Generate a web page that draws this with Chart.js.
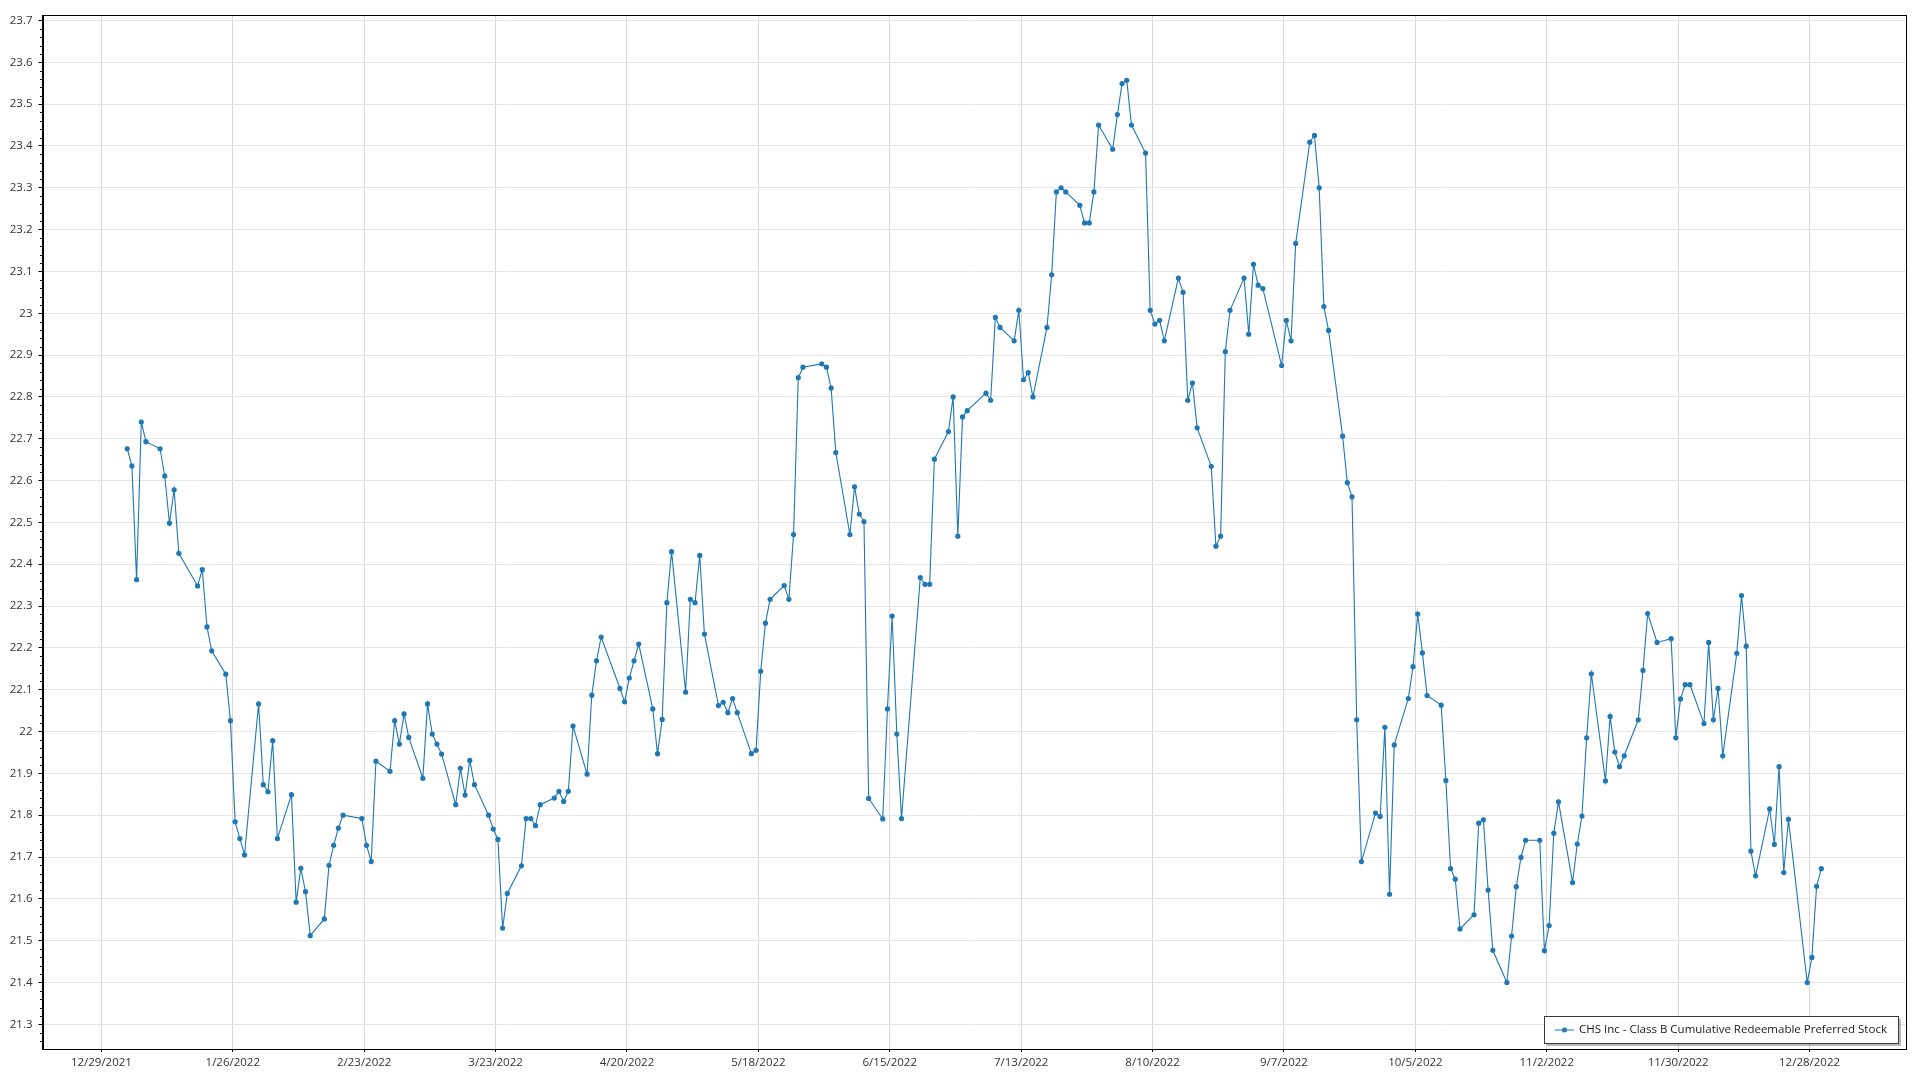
<!DOCTYPE html>
<html>
<head>
<meta charset="utf-8">
<script src="https://cdn.jsdelivr.net/npm/chart.js@4.4.1/dist/chart.umd.min.js"></script>
<style>
  html, body { margin: 0; padding: 0; background: #fff; }
  #wrap { width: 1920px; height: 1080px; }
</style>
</head>
<body>
<div id="wrap"><canvas id="chart1" width="1920" height="1080"></canvas></div>
<script>
const seriesName = 'CHS Inc - Class B Cumulative Redeemable Preferred Stock';

// trading days of 2022 (M/D)
const dates = [
  '1/3','1/4','1/5','1/6','1/7','1/10','1/11','1/12','1/13','1/14','1/18','1/19','1/20','1/21','1/24','1/25','1/26','1/27','1/28','1/31',
  '2/1','2/2','2/3','2/4','2/7','2/8','2/9','2/10','2/11','2/14','2/15','2/16','2/17','2/18','2/22','2/23','2/24','2/25','2/28',
  '3/1','3/2','3/3','3/4','3/7','3/8','3/9','3/10','3/11','3/14','3/15','3/16','3/17','3/18','3/21','3/22','3/23','3/24','3/25','3/28','3/29','3/30','3/31',
  '4/1','4/4','4/5','4/6','4/7','4/8','4/11','4/12','4/13','4/14','4/18','4/19','4/20','4/21','4/22','4/25','4/26','4/27','4/28','4/29',
  '5/2','5/3','5/4','5/5','5/6','5/9','5/10','5/11','5/12','5/13','5/16','5/17','5/18','5/19','5/20','5/23','5/24','5/25','5/26','5/27','5/31',
  '6/1','6/2','6/3','6/6','6/7','6/8','6/9','6/10','6/13','6/14','6/15','6/16','6/17','6/21','6/22','6/23','6/24','6/27','6/28','6/29','6/30',
  '7/1','7/5','7/6','7/7','7/8','7/11','7/12','7/13','7/14','7/15','7/18','7/19','7/20','7/21','7/22','7/25','7/26','7/27','7/28','7/29',
  '8/1','8/2','8/3','8/4','8/5','8/8','8/9','8/10','8/11','8/12','8/15','8/16','8/17','8/18','8/19','8/22','8/23','8/24','8/25','8/26','8/29','8/30','8/31',
  '9/1','9/2','9/6','9/7','9/8','9/9','9/12','9/13','9/14','9/15','9/16','9/19','9/20','9/21','9/22','9/23','9/26','9/27','9/28','9/29','9/30',
  '10/3','10/4','10/5','10/6','10/7','10/10','10/11','10/12','10/13','10/14','10/17','10/18','10/19','10/20','10/21','10/24','10/25','10/26','10/27','10/28','10/31',
  '11/1','11/2','11/3','11/4','11/7','11/8','11/9','11/10','11/11','11/14','11/15','11/16','11/17','11/18','11/21','11/22','11/23','11/25','11/28','11/29','11/30',
  '12/1','12/2','12/5','12/6','12/7','12/8','12/9','12/12','12/13','12/14','12/15','12/16','12/19','12/20','12/21','12/22','12/23','12/27','12/28','12/29','12/30'
];

const prices = [
  22.676,22.635,22.363,22.74,22.693,22.676,22.611,22.498,22.578,22.426,22.348,22.387,22.25,22.193,22.137,22.026,21.784,21.744,21.705,22.066,
  21.873,21.856,21.978,21.744,21.849,21.592,21.673,21.617,21.512,21.552,21.68,21.728,21.769,21.8,21.792,21.728,21.689,21.929,21.905,
  22.026,21.97,22.042,21.986,21.888,22.066,21.994,21.97,21.946,21.825,21.912,21.848,21.931,21.873,21.8,21.767,21.742,21.53,21.613,21.679,21.792,21.792,21.775,
  21.825,21.841,21.857,21.833,21.857,22.013,21.898,22.087,22.169,22.226,22.103,22.071,22.128,22.169,22.209,22.054,21.947,22.029,22.308,22.43,
  22.094,22.316,22.308,22.421,22.233,22.062,22.07,22.045,22.079,22.045,21.947,21.955,22.144,22.259,22.316,22.349,22.316,22.471,22.846,22.871,22.879,
  22.871,22.821,22.667,22.471,22.585,22.52,22.502,21.84,21.791,22.054,22.276,21.994,21.792,22.368,22.352,22.352,22.651,22.717,22.8,22.467,22.752,
  22.767,22.809,22.792,22.99,22.966,22.934,23.007,22.841,22.858,22.8,22.966,23.092,23.29,23.3,23.29,23.258,23.216,23.216,23.29,23.45,
  23.392,23.475,23.549,23.557,23.45,23.383,23.007,22.974,22.983,22.934,23.084,23.05,22.792,22.833,22.726,22.634,22.443,22.467,22.908,23.007,23.084,22.95,23.117,
  23.067,23.059,22.875,22.983,22.934,23.167,23.409,23.425,23.3,23.016,22.959,22.706,22.595,22.561,22.028,21.689,21.805,21.797,22.01,21.611,21.968,
  22.079,22.155,22.281,22.188,22.086,22.063,21.883,21.672,21.647,21.528,21.562,21.781,21.789,21.621,21.477,21.4,21.511,21.629,21.699,21.74,21.74,
  21.476,21.536,21.757,21.832,21.639,21.731,21.798,21.985,22.138,21.882,22.036,21.951,21.916,21.942,22.028,22.146,22.282,22.213,22.222,21.985,22.078,
  22.112,22.112,22.019,22.213,22.028,22.103,21.942,22.187,22.325,22.204,21.714,21.655,21.815,21.73,21.916,21.663,21.79,21.4,21.46,21.63,21.672
];

const xTickLabels = ['12/29/2021','1/26/2022','2/23/2022','3/23/2022','4/20/2022','5/18/2022','6/15/2022',
  '7/13/2022','8/10/2022','9/7/2022','10/5/2022','11/2/2022','11/30/2022','12/28/2022'];
const yTicks = [21.3,21.4,21.5,21.6,21.7,21.8,21.9,22,22.1,22.2,22.3,22.4,22.5,22.6,22.7,22.8,22.9,23,23.1,23.2,23.3,23.4,23.5,23.6,23.7];
const yMin = 21.241, yMax = 23.713;

// day numbers counted from the first tick date
const base = Date.UTC(2021, 11, 29);
function dayOf(m, d, y, h) { return (Date.UTC(y, m - 1, d, h || 0) - base) / 864e5; }
function parseTick(s) { const p = s.split('/').map(Number); return dayOf(p[0], p[1], p[2]); }

const points = dates.map((s, i) => {
  const p = s.split('/').map(Number);
  return { x: dayOf(p[0], p[1], 2022, 12), y: prices[i] };
});
const xTicks = xTickLabels.map(parseTick);
const xs = points.map(p => p.x);
const pad = (Math.max(...xs) - Math.min(...xs)) * 0.05;
const xMin = Math.min(...xs) - pad, xMax = Math.max(...xs) + pad;

const family = "'Segoe UI', 'Open Sans', 'Noto Sans', sans-serif";
Chart.defaults.font.family = family;
Chart.defaults.font.size = 11.5;
Chart.defaults.color = '#333';

const frame = {
  id: 'frame',
  afterDraw(chart) {
    const { ctx, chartArea: a } = chart;
    const ys = chart.scales.y;
    ctx.save();
    // minor ticks on the value axis
    ctx.strokeStyle = '#000';
    ctx.lineWidth = 1;
    ctx.beginPath();
    for (let k = Math.ceil(ys.min * 50); k <= Math.floor(ys.max * 50); k++) {
      if (k % 5 === 0) continue;
      const py = Math.round(ys.getPixelForValue(k / 50)) + 0.5;
      ctx.moveTo(a.left - 2.5, py);
      ctx.lineTo(a.left, py);
    }
    ctx.stroke();
    // plot frame
    ctx.strokeRect(Math.round(a.left) + 0.5, Math.round(a.top) + 0.5,
      Math.round(a.right - a.left) - 1, Math.round(a.bottom - a.top));

    // legend box, bottom right inside the plot
    ctx.font = '11.5px ' + family;
    const tw = ctx.measureText(seriesName).width;
    const w = Math.round(tw + 46), h = 27;
    const x1 = Math.round(a.right - 8 - w), y1 = Math.round(a.bottom - 6 - h);
    ctx.fillStyle = 'rgba(0,0,0,0.28)';
    ctx.fillRect(x1 + 3, y1 + 3, w, h);
    ctx.fillStyle = '#fff';
    ctx.fillRect(x1, y1, w, h);
    ctx.strokeStyle = '#3a3a3a';
    ctx.strokeRect(x1 + 0.5, y1 + 0.5, w, h);
    const my = y1 + h / 2 + 0.5;
    ctx.strokeStyle = '#1f77b4';
    ctx.beginPath();
    ctx.moveTo(x1 + 11, my);
    ctx.lineTo(x1 + 30, my);
    ctx.stroke();
    ctx.fillStyle = '#1f77b4';
    ctx.beginPath();
    ctx.arc(x1 + 20.5, my, 2.5, 0, Math.PI * 2);
    ctx.fill();
    ctx.fillStyle = '#1a1a1a';
    ctx.textBaseline = 'middle';
    ctx.textAlign = 'left';
    ctx.fillText(seriesName, x1 + 35, my);
    ctx.restore();
  }
};

const cfg1 = {
  type: 'line',
  data: {
    datasets: [{
      label: seriesName,
      data: points,
      borderColor: '#1f77b4',
      backgroundColor: '#1f77b4',
      borderWidth: 1.1,
      pointRadius: 2.6,
      pointHoverRadius: 2.6,
      pointBorderWidth: 0,
      tension: 0,
      fill: false
    }]
  },
  options: {
    responsive: false,
    animation: false,
    layout: { padding: { top: 15, right: 14, left: 0, bottom: 0 } },
    plugins: { legend: { display: false }, tooltip: { enabled: false } },
    scales: {
      x: {
        type: 'linear', min: xMin, max: xMax,
        afterBuildTicks: s => { s.ticks = xTicks.map(v => ({ value: v })); },
        afterFit: s => { s.height = 31; },
        ticks: { callback: (v, i) => xTickLabels[i], padding: 4, maxRotation: 0, autoSkip: false },
        grid: { color: '#d8d8d8', tickColor: '#000', tickLength: 3 },
        border: { color: '#000', width: 1 }
      },
      y: {
        type: 'linear', min: yMin, max: yMax,
        afterBuildTicks: s => { s.ticks = yTicks.map(v => ({ value: v })); },
        afterFit: s => { s.width = 42.5; },
        ticks: { callback: v => String(+(+v).toFixed(1)), padding: 6, autoSkip: false },
        grid: { color: '#e6e6e6', tickColor: '#000', tickLength: 4 },
        border: { color: '#000', width: 1 }
      }
    }
  },
  plugins: [frame]
};

const chart1 = new Chart(document.getElementById('chart1').getContext('2d'), cfg1);
</script>
</body>
</html>
